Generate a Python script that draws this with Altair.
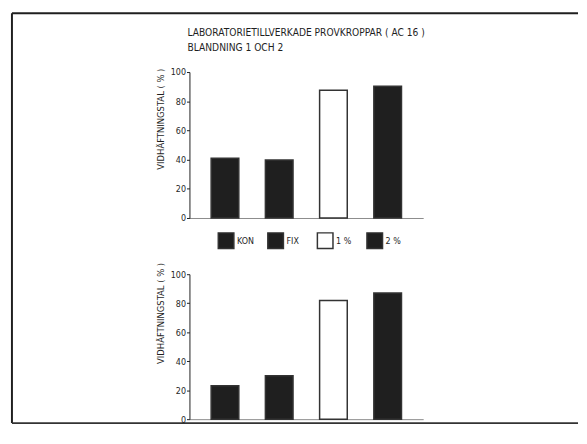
import altair as alt
import pandas as pd

categories = ["KON", "FIX", "1 %", "2 %"]
top_values = [41, 39.7, 87.5, 90.2]
bottom_values = [23.1, 29.9, 81.9, 87.1]
legend_labels = ["KON", "FIX", "1 %", "2 %"]
y_ticks = [0, 20, 40, 60, 80, 100]
title_line1 = "LABORATORIETILLVERKADE PROVKROPPAR ( AC 16 )"
title_line2 = "BLANDNING 1 OCH 2"
y_title = "VIDHÄFTNINGSTAL ( % )"

FONT = "Liberation Sans Narrow, DejaVu Sans Condensed, Arial Narrow, sans-serif"
INK = "#1f1f1f"
fills = [INK, INK, "#ffffff", INK]


def panel(values, title_y, height):
    df = pd.DataFrame({"cat": categories, "val": values})
    x = alt.X(
        "cat:N", sort=categories,
        scale=alt.Scale(paddingInner=0.49, paddingOuter=0.4),
        axis=alt.Axis(labels=False, ticks=False, title=None,
                      domainColor="#8a8a8a", domainWidth=1),
    )
    y = alt.Y(
        "val:Q",
        scale=alt.Scale(domain=[0, 100], nice=False),
        axis=alt.Axis(
            values=y_ticks, title=y_title, titleAngle=-90, titleX=-29,
            titleY=title_y, titleAlign="right", titleBaseline="middle",
            titleFont=FONT, titleFontSize=9.5, titleFontWeight="normal",
            labelFont=FONT, labelFontSize=9, labelPadding=1, tickSize=3,
            grid=False, domainColor=INK, tickColor=INK, labelColor=INK,
            titleColor=INK,
        ),
    )
    return alt.Chart(df).mark_bar(stroke="#333333", strokeWidth=1.5).encode(
        x=x, y=y,
        fill=alt.Fill("cat:N", scale=alt.Scale(domain=categories, range=fills), legend=None),
    ).properties(width=237, height=height)


one = pd.DataFrame({"k": [0]})

t1 = alt.Chart(pd.DataFrame({"t": [title_line1]})).mark_text(
    align="left", baseline="middle", font=FONT, fontSize=10.3, color=INK
).encode(x=alt.value(-2), y=alt.value(-40), text="t:N")
t2 = alt.Chart(pd.DataFrame({"t": [title_line2]})).mark_text(
    align="left", baseline="middle", font=FONT, fontSize=10.3, color=INK
).encode(x=alt.value(-2), y=alt.value(-24), text="t:N")

f_left = alt.Chart(one).mark_rule(color=INK, strokeWidth=2).encode(
    x=alt.value(-180), y=alt.value(-59.5), y2=alt.value(356))
f_top = alt.Chart(one).mark_rule(color=INK, strokeWidth=2).encode(
    x=alt.value(-180), x2=alt.value(394), y=alt.value(-59.5))
f_bot = alt.Chart(one).mark_rule(color="#333333", strokeWidth=2).encode(
    x=alt.value(-180), x2=alt.value(394), y=alt.value(356))

top = alt.layer(panel(top_values, -4, 148), t1, t2, f_left, f_top, f_bot)

leg_df = pd.DataFrame({"lab": legend_labels})
lx = alt.X("lab:N", sort=legend_labels,
           scale=alt.Scale(type="point", range=[12, 213]), axis=None)
squares = alt.Chart(leg_df).mark_square(
    size=250, filled=True, stroke="#333333", strokeWidth=1.5, opacity=1
).encode(
    x=lx, y=alt.value(23),
    fill=alt.Fill("lab:N", scale=alt.Scale(domain=legend_labels, range=fills), legend=None),
)
labels = alt.Chart(leg_df).mark_text(
    align="left", baseline="middle", dx=11, font=FONT, fontSize=9, color=INK
).encode(x=lx, y=alt.value(23), text="lab:N")
legend = alt.layer(squares, labels).properties(width=237, height=57)

bottom = panel(bottom_values, -12, 147)

chart = alt.vconcat(top, legend, bottom, spacing=0, bounds="flush").properties(
    padding={"left": 3, "top": 1, "right": 0, "bottom": 0},
    background="white",
).resolve_scale(x="independent", y="independent", fill="independent").configure_view(stroke=None)

chart.save("out.html", embed_options={"renderer": "svg", "actions": False})
